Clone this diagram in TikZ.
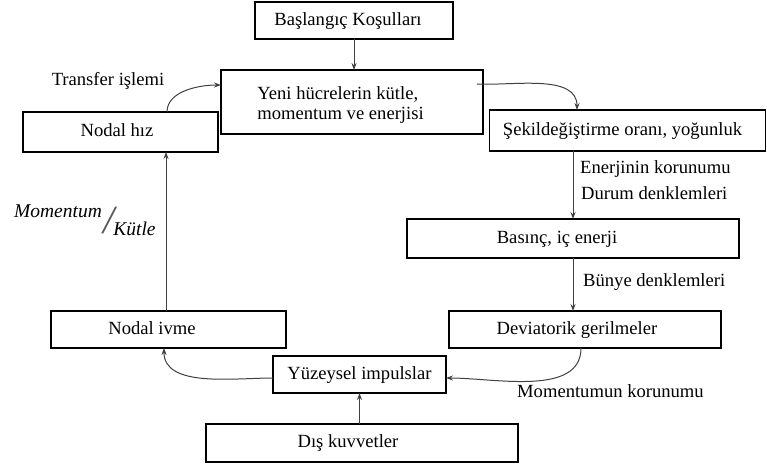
\documentclass[tikz,border=0pt]{standalone}
\usepackage{fontspec}
\setmainfont{Liberation Serif}
\usetikzlibrary{arrows.meta}
\begin{document}
\begin{tikzpicture}[x=1pt,y=-1pt,
  box/.style={draw=black, line width=1.4pt, inner sep=0pt, outer sep=0pt},
  txt/.style={inner sep=0pt, font=\fontsize{18.6}{21}\selectfont, text height=13pt, text depth=4pt},
  arr/.style={draw=black!75, line width=1pt, -{Stealth[length=7pt,width=5pt]}}
]
\useasboundingbox (0,0) rectangle (767,463);
% boxes
\node[box, minimum width=198pt, minimum height=37pt] (bas) at (354,20.5) {};
\node[box, line width=2.2pt, minimum width=262pt, minimum height=64pt] (yeni) at (352,102) {};
\node[box, minimum width=195pt, minimum height=40pt] (nhiz) at (120.5,132) {};
\node[box, minimum width=276pt, minimum height=41pt] (sekil) at (627.5,130.5) {};
\node[box, minimum width=332pt, minimum height=39pt] (basinc) at (573,238.5) {};
\node[box, minimum width=272pt, minimum height=37pt] (dev) at (585,329.5) {};
\node[box, minimum width=235pt, minimum height=37pt] (nivme) at (168.5,329.5) {};
\node[box, minimum width=173pt, minimum height=37pt] (yuz) at (359.5,374.5) {};
\node[box, minimum width=312pt, minimum height=38pt] (dis) at (362,443) {};
% box texts
\node[txt] (tbas) at (348,21) {Başlangıç Koşulları};
\node[inner sep=0pt, font=\fontsize{18.6}{20.5}\selectfont, align=left] (tyeni) at (340.5,105) {Yeni hücrelerin kütle,\\momentum ve enerjisi};
\node[txt] (tnhiz) at (117,132) {Nodal hız};
\node[txt] (tsekil) at (622.5,131) {Şekildeğiştirme oranı, yoğunluk};
\node[txt] (tbasinc) at (557,239) {Basınç, iç enerji};
\node[txt] (tdev) at (577,330) {Deviatorik gerilmeler};
\node[txt] (tnivme) at (152,330) {Nodal ivme};
\node[txt] (tyuz) at (359.5,375) {Yüzeysel impulslar};
\node[txt] (tdis) at (348,443) {Dış kuvvetler};
% free labels
\node[txt] (ltransfer) at (108,81) {Transfer işlemi};
\node[txt, anchor=west] (lener) at (580,169) {Enerjinin korunumu};
\node[txt, anchor=west] (ldurum) at (581,195) {Durum denklemleri};
\node[txt, anchor=west] (lbunye) at (583,282) {Bünye denklemleri};
\node[txt, anchor=west] (lmom) at (517,393) {Momentumun korunumu};
\node[txt, font=\fontsize{19.5}{21}\selectfont\itshape] (lmomentum) at (58,213) {Momentum};
\node[txt, font=\fontsize{19.5}{21}\selectfont\itshape] (lkutle) at (134.5,231) {Kütle};
\node[inner sep=0pt, font=\fontsize{40}{42}\selectfont\itshape, text=black!65] (lslash) at (109,221) {/};
% connectors
\draw[arr] (bas.south) -- (bas.south |- yeni.north);
\draw[arr] ([xshift=46.5pt]nhiz.north) to[out=90, in=180, looseness=0.9] ([yshift=17pt]yeni.west);
\draw[arr] ([xshift=-6pt, yshift=18pt]yeni.east) to[out=-3, in=90, looseness=0.9] ([xshift=-50.5pt]sekil.north);
\draw[arr] (basinc.north |- sekil.south) -- (basinc.north);
\draw[arr] (basinc.south) -- (basinc.south |- dev.north);
\draw[arr] ([xshift=-4pt]dev.south) to[out=-90, in=0, looseness=0.9] ([yshift=-3.5pt]yuz.east);
\draw[arr] ([yshift=-3.5pt]yuz.west) to[out=180, in=-90, looseness=0.9] ([xshift=-4.5pt]nivme.south);
\draw[arr] (yuz.south |- dis.north) -- (yuz.south);
\draw[arr] ([xshift=-2.5pt]nivme.north) -- ([xshift=-2.5pt]nivme.north |- nhiz.south);
\end{tikzpicture}
\end{document}
